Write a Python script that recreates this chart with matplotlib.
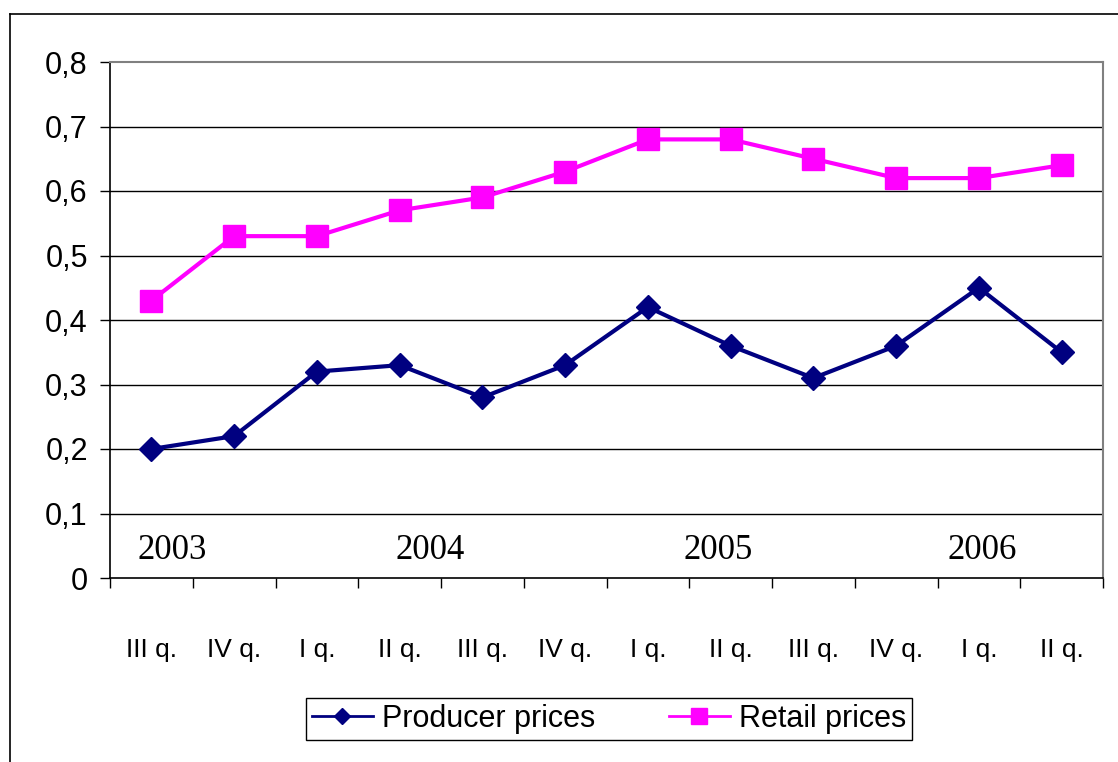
import matplotlib
matplotlib.use('Agg')
import matplotlib.pyplot as plt
from matplotlib.lines import Line2D
from matplotlib.ticker import FixedLocator, FuncFormatter

# data
quarters = ['III q.', 'IV q.', 'I q.', 'II q.', 'III q.', 'IV q.',
            'I q.', 'II q.', 'III q.', 'IV q.', 'I q.', 'II q.']
producer = [0.20, 0.22, 0.32, 0.33, 0.28, 0.33, 0.42, 0.36, 0.31, 0.36, 0.45, 0.35]
retail = [0.43, 0.53, 0.53, 0.57, 0.59, 0.63, 0.68, 0.68, 0.65, 0.62, 0.62, 0.64]
years = ['2003', '2004', '2005', '2006']
year_pos = [0.25, 3.37, 6.85, 10.04]

plt.rcParams['font.family'] = ['Liberation Sans', 'DejaVu Sans']

fig = plt.figure(figsize=(11.18, 7.62), dpi=100)
fig.patch.set_facecolor('white')
ax = fig.add_axes([110/1118, 1 - 578/762, 993/1118, 516/762])

x = list(range(len(quarters)))
ax.plot(x, producer, color='#000080', lw=3, marker='D', ms=12,
        label='Producer prices', zorder=4)
ax.plot(x, retail, color='#FF00FF', lw=3, marker='s', ms=15.5,
        label='Retail prices', zorder=4)

ax.set_xlim(-0.5, len(quarters) - 0.5)
ax.set_ylim(0, 0.8)

# y axis
ax.yaxis.set_major_locator(FixedLocator([i / 10 for i in range(9)]))
ax.yaxis.set_major_formatter(FuncFormatter(
    lambda v, p: '0' if abs(v) < 1e-9 else ('%.1f' % v).replace('.', ',')))
ax.tick_params(axis='y', length=7, width=1, labelsize=22, pad=9)
for v in range(1, 8):
    ax.axhline(v / 10, color='black', lw=1, zorder=1)

# x axis: ticks at category boundaries, labels at centres
ax.set_xticks(x)
ax.set_xticklabels(quarters, fontsize=19)
ax.tick_params(axis='x', which='major', length=0, pad=43)
ax.set_xticks([i - 0.5 for i in range(len(quarters) + 1)], minor=True)
ax.tick_params(axis='x', which='minor', length=7, width=1)

for s in ['left', 'bottom']:
    ax.spines[s].set_color('black')
    ax.spines[s].set_linewidth(1.2)
for s in ['top', 'right']:
    ax.spines[s].set_color('#808080')
    ax.spines[s].set_linewidth(1.5)

for y, xp in zip(years, year_pos):
    ax.text(xp, 0.043, y, ha='center', va='center', fontsize=25,
            family=['Liberation Serif', 'DejaVu Serif'])

leg = fig.legend(loc='center', bbox_to_anchor=(609/1118, 1 - 719/762),
                 ncol=2, fontsize=22, frameon=True, fancybox=False,
                 framealpha=1, edgecolor='black', handlelength=2.0,
                 columnspacing=2.4, markerscale=0.7, borderpad=0.2,
                 handletextpad=0.3)
leg.get_frame().set_linewidth(1)
for h in leg.legend_handles:
    h.set_linewidth(2)

# outer chart frame
fig.add_artist(Line2D([10/1118, 10/1118], [0, 1 - 14/762], color='black', lw=1.2))
fig.add_artist(Line2D([10/1118, 1], [1 - 14/762, 1 - 14/762], color='black', lw=1.2))

fig.savefig('out.png', dpi=100, facecolor='white')
